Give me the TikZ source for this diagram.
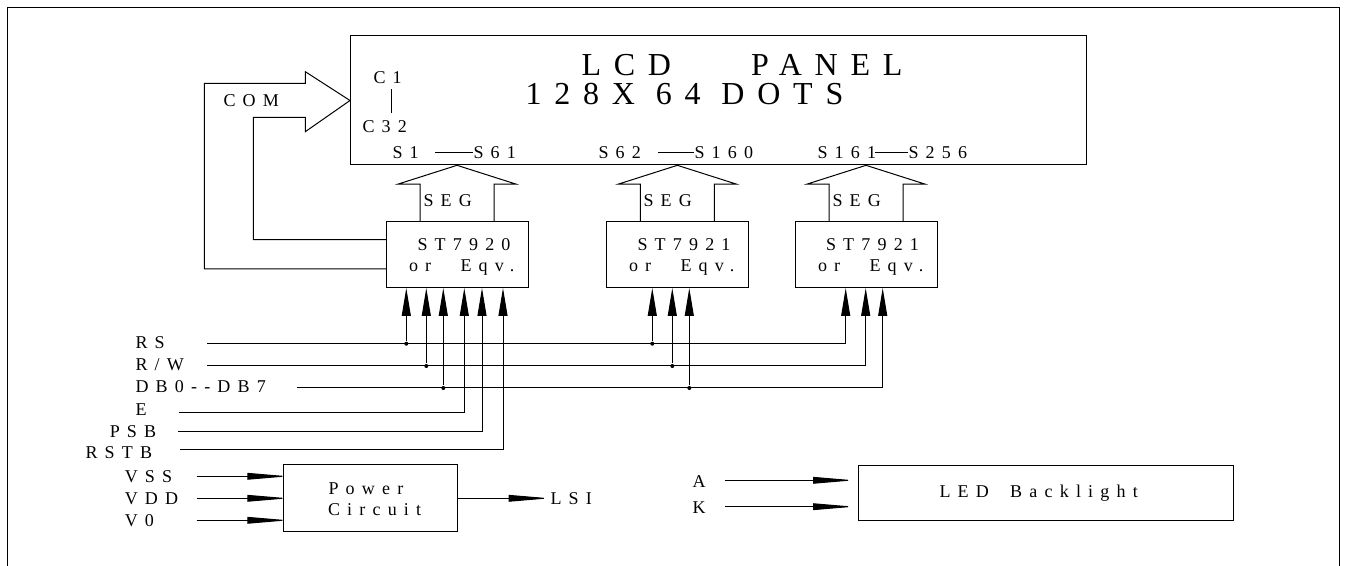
\documentclass[tikz,border=0pt]{standalone}
\usepackage{fontspec}
\usetikzlibrary{arrows.meta}
\newfontfamily\widefont[LetterSpace=40]{Liberation Serif}
\tikzset{
  txt/.style={anchor=west,inner sep=0pt,font=\widefont\fontsize{13.5}{15}\selectfont},
  bigtxt/.style={anchor=west,inner sep=0pt,font=\widefont\fontsize{24}{28}\selectfont},
  box/.style={draw,inner sep=0pt,outer sep=0pt},
  chip/.style={box,minimum width=106.7pt,minimum height=50pt},
  junction/.style={circle,fill=black,inner sep=0pt,minimum size=3pt},
  busin/.style={-{Triangle[length=21pt,width=6.75pt]}},
  pwrin/.style={-{Triangle[length=31pt,width=5pt]},shorten >=-4pt}
}
\begin{document}
\begin{tikzpicture}[x=0.75pt,y=-0.75pt,line width=0.75pt]
    \useasboundingbox (0,0) rectangle (1347,566);
    \draw (7,566) |- (1339,8) -- (1339,566);
    \node[box,minimum width=552pt,minimum height=96.75pt] (panel) at (718,100.5) {};
    \node[txt,bigtxt] (title) at (581,65.5) {LCD\hspace*{60pt}PANEL};
    \node[txt,bigtxt] (dots) at (525,94.5) {128X 64 DOTS};
    \node[txt] (cfirst) at (373,78) {C1};
    \node[txt] (clast) at (362,127) {C32};
    \coordinate (cup) at (391.7,89.3);
    \coordinate (cdn) at (391.7,113.3);
    \draw (cup) -- (cdn);
    \foreach \nm/\xa/\ta/\xb/\tb/\la/\lb in {sa/392/S1/473/S61/435/473,sb/598/S62/694/S160/658/694,sc/817/S161/908/S256/875/908}{
        \node[txt] (\nm first) at (\xa,152.5) {\ta};
        \node[txt] (\nm last) at (\xb,152.5) {\tb};
        \draw (\la,152.5) -- (\lb,152.5);
    }
    \node[chip] (chipa) at (457.15,254.65) {};
    \node[chip] (chipb) at (677.5,254.65) {};
    \node[chip] (chipc) at (866.15,254.65) {};
    \foreach \chip in {chipa,chipb,chipc}{
        \draw ([shift={(34,0)}]\chip.north west) -- ++(0,-37.3) -- ++(-21.7,0) -- ++(58.7,-18.7)
           -- ++(58.7,18.7) -- ++(-21.7,0) -- ++(0,37.3);
    }
    \node[txt] (sega) at (423,200.5) {SEG};
    \node[txt] (segb) at (643,200.5) {SEG};
    \node[txt] (segc) at (832,200.5) {SEG};
    \node[txt] (namea) at (417,244.5) {ST7920};
    \node[txt] (nameb) at (637,244.5) {ST7921};
    \node[txt] (namec) at (825.5,244.5) {ST7921};
    \node[txt] (eqva) at (408.5,268) {or\hspace*{22pt}Eqv.};
    \node[txt] (eqvb) at (628.5,268) {or\hspace*{22pt}Eqv.};
    \node[txt] (eqvc) at (817.5,268) {or\hspace*{22pt}Eqv.};
    % COM bus
    \coordinate (comlo) at (chipa.west |- 0,269);
    \coordinate (comhi) at (chipa.west |- 0,239.7);
    \draw (comlo) -| (204.3,83.3) -- (305.3,83.3) -- (305.3,71.7) -- (panel.west)
        -- (305.3,131.7) -- (305.3,117.3) -- (253.3,117.3) |- (comhi);
    \node[txt] (com) at (223,100.5) {COM};
    % control lines
    \node[txt] (rs) at (135,342.5) {RS};
    \node[txt] (rw) at (135,364.8) {R/W};
    \node[txt] (db) at (135,387) {DB0--DB7};
    \node[txt] (en) at (135,409.5) {E};
    \node[txt] (psb) at (109.3,431.5) {PSB};
    \node[txt] (rstb) at (85,453) {RSTB};
    \coordinate (rsl) at (207,343.7);
    \coordinate (rwl) at (207,366);
    \coordinate (dbl) at (296.7,388);
    \coordinate (enl) at (178.7,412.7);
    \coordinate (psbl) at (178.3,432);
    \coordinate (rstbl) at (179.7,449.3);
    \foreach \nm/\x in {ia/406.3,ib/426.3,ic/443.3,id/464.3,ie/482,if/503,ja/652.3,jb/672.3,jc/689.3,ka/845.7,kb/865.7,kc/882.7}
        \coordinate (\nm) at (\x,288);
    \draw[busin] (rsl) -| (ka);
    \draw[busin] (rwl) -| (kb);
    \draw[busin] (dbl) -| (kc);
    \draw[busin] (enl) -| (id);
    \draw[busin] (psbl) -| (ie);
    \draw[busin] (rstbl) -| (if);
    \foreach \nm/\bus in {ia/rsl,ib/rwl,ic/dbl,ja/rsl,jb/rwl,jc/dbl}{
        \node[junction] (dot\nm) at (\nm |- \bus) {};
        \draw[busin] (dot\nm) -- (\nm);
    }
    % power and backlight
    \node[box,minimum width=131pt,minimum height=50.5pt] (power) at (370.65,498) {};
    \node[txt] (pwa) at (328,488.5) {Power};
    \node[txt] (pwb) at (327.5,510) {Circuit};
    \node[txt] (vss) at (124.3,477) {VSS};
    \node[txt] (vdd) at (124.3,499) {VDD};
    \node[txt] (vz) at (124.3,520.5) {V0};
    \coordinate (vssl) at (196.7,476.3);
    \coordinate (vddl) at (196.7,498.3);
    \coordinate (vzl) at (196.7,520.3);
    \draw[pwrin] (vssl) -- (vssl -| power.west);
    \draw[pwrin] (vddl) -- (vddl -| power.west);
    \draw[pwrin] (vzl) -- (vzl -| power.west);
    \node[txt] (lsi) at (550,499) {LSI};
    \draw[pwrin,shorten >=0pt] (power.east |- vddl) -- (lsi.west |- vddl);
    \node[box,minimum width=281.25pt,minimum height=41.25pt] (led) at (1045.5,493.5) {};
    \node[txt] (ledt) at (939,493.5) {LED\hspace*{16pt}Backlight};
    \node[txt] (anode) at (692,481.5) {A};
    \node[txt] (kath) at (692,507.5) {K};
    \coordinate (al) at (725,480.3);
    \coordinate (kl) at (725,506.7);
    \coordinate (ar) at (849,480.3);
    \coordinate (kr) at (849,506.7);
    \draw[pwrin] (al) -- (ar);
    \draw[pwrin] (kl) -- (kr);
\end{tikzpicture}
\end{document}
